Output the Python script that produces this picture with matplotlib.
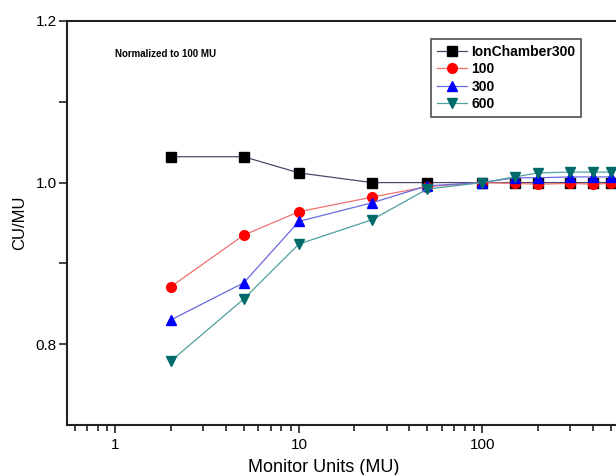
import numpy as np
import matplotlib
matplotlib.use('Agg')
import matplotlib.pyplot as plt
from matplotlib.ticker import FixedLocator, NullFormatter, LogLocator

plt.rcParams['font.family'] = ['Liberation Sans', 'DejaVu Sans']

# monitor units for every series
mu = [2, 5, 10, 25, 50, 100, 150, 200, 300, 400, 500]

ion300 = [1.032, 1.032, 1.012, 1.000, 1.000, 1.000, 1.000, 1.000, 1.000, 1.000, 1.000]
r100 = [0.871, 0.935, 0.964, 0.982, 0.995, 1.000, 0.999, 0.998, 0.999, 0.998, 0.999]
r300 = [0.830, 0.876, 0.952, 0.975, 0.996, 1.000, 1.006, 1.006, 1.007, 1.007, 1.007]
r600 = [0.779, 0.856, 0.924, 0.954, 0.992, 1.000, 1.007, 1.012, 1.013, 1.013, 1.013]

labels = ['IonChamber300', '100', '300', '600']

fig = plt.figure(figsize=(6.16, 4.75), dpi=100)
# axes run past the right edge of the canvas, as in the cropped reference
ax = fig.add_axes([0.1088, 0.105, 0.9724, 0.851])

series = [ion300, r100, r300, r600]
mcol = ['#000000', '#ff0000', '#0000ff', '#006b6b']
lcol = ['#4a4a6a', '#f07070', '#6a6ae0', '#50a0a0']
marks = ['s', 'o', '^', 'v']
msz = [6.5, 7, 7.5, 7.5]
for s, mc, lc, mk, ms, lab in zip(series, mcol, lcol, marks, msz, labels):
    ax.plot(mu, s, color=lc, lw=0.9, marker=mk, ms=ms, mfc=mc, mec=mc,
            label=lab)

ax.set_xscale('log')
ax.set_xlim(0.545, 1000)
ax.set_ylim(0.7, 1.2)

ax.yaxis.set_major_locator(FixedLocator([0.8, 1.0, 1.2]))
ax.yaxis.set_minor_locator(FixedLocator([0.9, 1.1]))
ax.set_yticklabels(['0.8', '1.0', '1.2'])
ax.xaxis.set_major_locator(FixedLocator([1, 10, 100]))
ax.set_xticklabels(['1', '10', '100'])
ax.xaxis.set_minor_locator(LogLocator(base=10, subs=np.arange(2, 10)))
ax.xaxis.set_minor_formatter(NullFormatter())

ax.tick_params(which='major', direction='out', length=6, width=1.2,
               labelsize=11, color='#222222')
ax.tick_params(axis='y', which='major', pad=1.5)
ax.tick_params(axis='y', which='minor', direction='out', length=6, width=1.2,
               color='#222222')
ax.tick_params(axis='x', which='minor', direction='out', length=4, width=1.2,
               color='#222222')
for sp in ax.spines.values():
    sp.set_linewidth(1.5)
    sp.set_color('#222222')

ax.set_ylabel('CU/MU', fontsize=12, labelpad=6)
ax.set_xlabel('Monitor Units (MU)', fontsize=13, labelpad=2)
ax.xaxis.set_label_coords(0.429, -0.085)

ax.text(0.08, 0.917, 'Normalized to 100 MU', transform=ax.transAxes,
        fontsize=7, fontweight='bold', va='center')

leg = ax.legend(loc='upper right', bbox_to_anchor=(0.858, 0.955),
                borderaxespad=0, fancybox=False, frameon=True,
                handlelength=2.2, handletextpad=0.3, labelspacing=0.25,
                borderpad=0.4, prop={'size': 10, 'weight': 'bold'})
leg.get_frame().set_edgecolor('#333333')
leg.get_frame().set_linewidth(1.3)

fig.savefig('out.png', dpi=100)
